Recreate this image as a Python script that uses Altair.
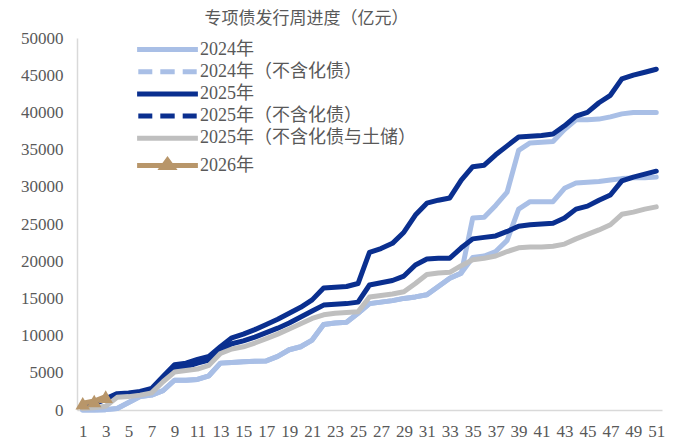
import altair as alt
import pandas as pd

weeks = list(range(1, 52))

s2024 = [0, 0, 50, 200, 1000, 1800, 2000, 2600, 4000, 4000,
         4100, 4600, 6300, 6400, 6500, 6550, 6600, 7200, 8100, 8500,
         9400, 11500, 11700, 11800, 13000, 14300, 14500, 14700, 15000, 15200,
         15500, 16600, 17700, 18400, 25800, 25900, 27500, 29300, 34900, 35900,
         36000, 36100, 37700, 39000, 39000, 39100, 39400, 39800, 40000, 40000,
         40000]
s2024_ex = [0, 0, 50, 200, 1000, 1800, 2000, 2600, 4000, 4000,
            4100, 4600, 6300, 6400, 6500, 6550, 6600, 7200, 8100, 8500,
            9400, 11500, 11700, 11800, 13000, 14300, 14500, 14700, 15000, 15200,
            15500, 16600, 17700, 18400, 20500, 20700, 21300, 22800, 27000, 28000,
            28000, 28000, 29800, 30500, 30600, 30700, 30900, 31100, 31200, 31200,
            31300]
s2025 = [600, 900, 1500, 2200, 2300, 2500, 2900, 4500, 6100, 6300,
         6800, 7200, 8500, 9700, 10200, 10800, 11500, 12200, 13000, 13800,
         14800, 16400, 16500, 16600, 17000, 21200, 21700, 22400, 23900, 26200,
         27800, 28200, 28500, 30900, 32700, 32900, 34300, 35500, 36700, 36800,
         36900, 37100, 38200, 39500, 40000, 41300, 42300, 44500, 45000, 45400,
         45800]
s2025_ex = [600, 900, 1400, 2100, 2200, 2400, 2700, 4300, 5700, 5800,
            6300, 6700, 8000, 8900, 9300, 9800, 10400, 11000, 11700, 12500,
            13300, 14100, 14200, 14300, 14500, 16800, 17100, 17400, 18000, 19500,
            20300, 20400, 20400, 21800, 23000, 23200, 23400, 24000, 24700, 24900,
            25000, 25100, 25800, 27000, 27400, 28200, 28900, 30800, 31300, 31700,
            32100]
s2025_ex2 = [200, 300, 500, 1700, 1800, 2000, 2300, 3800, 5100, 5300,
             5500, 6000, 7600, 8200, 8500, 9000, 9600, 10200, 10900, 11600,
             12300, 12800, 13000, 13100, 13200, 15200, 15400, 15600, 15900, 17000,
             18200, 18400, 18500, 19400, 20200, 20400, 20700, 21300, 21800, 21900,
             21900, 22000, 22300, 23000, 23600, 24200, 24900, 26300, 26600, 27000,
             27300]
s2026 = [900, 1200, 1800]

names = ["2024年", "2024年（不含化债）", "2025年", "2025年（不含化债）",
         "2025年（不含化债与土储）", "2026年"]
series = [s2024, s2024_ex, s2025, s2025_ex, s2025_ex2, s2026]
colors = ["#a9bfe6", "#a9bfe6", "#0a2f8f", "#0a2f8f", "#bfbfbf", "#b8966a"]
legend_paths = [
    "M-3.8,0H3.8",
    "M-3.65,0H-1.9M-0.9,0H0.9M1.9,0H3.65",
    "M-3.8,0H3.8",
    "M-3.65,0H-1.9M-0.9,0H0.9M1.9,0H3.65",
    "M-3.8,0H3.8",
    "M-3.8,0H3.8M-0.65,0.25L0,-0.65L0.65,0.25Z",
]

rows = []
for name, vals in zip(names, series):
    for w, v in zip(weeks, vals):
        rows.append({"series": name, "week": w, "value": v})
df = pd.DataFrame(rows)

TEXT = "#595959"
FONT = "Liberation Serif, Noto Sans CJK SC"

x = alt.X("week:Q",
          scale=alt.Scale(domain=[0.5, 51.5], nice=False, zero=False),
          axis=alt.Axis(values=list(range(1, 52, 2)), format="d", title=None,
                        labelFlush=False, labelOverlap=False, labelPadding=13))
y = alt.Y("value:Q",
          scale=alt.Scale(domain=[0, 50000], nice=False),
          axis=alt.Axis(values=list(range(0, 50001, 5000)), format="d", title=None,
                        labelFlush=False, labelOverlap=False, labelPadding=14))

base = alt.Chart(df)
layers = []
for name, col in zip(names, colors):
    layers.append(
        base.transform_filter(alt.datum.series == name)
        .mark_line(strokeWidth=5, strokeCap="round", strokeJoin="round", color=col)
        .encode(x=x, y=y)
    )

pts = (base.transform_filter(alt.datum.series == "2026年")
       .mark_point(shape="triangle-up", filled=True, size=210, color=colors[5], opacity=1)
       .encode(x=x, y=y))

leg = alt.Legend(title=None, orient="none", legendX=80, legendY=1,
                 labelFont=FONT, labelFontSize=18, labelColor=TEXT,
                 labelOffset=22, symbolStrokeWidth=5, symbolSize=256,
                 rowPadding=1.2, padding=0, labelLimit=400)

legend_layer = (base.transform_filter("datum.week < 0")
                .mark_point(filled=False, opacity=1, strokeWidth=5, size=256)
                .encode(x=x, y=y,
                        color=alt.Color("series:N", scale=alt.Scale(domain=names, range=colors), legend=leg),
                        shape=alt.Shape("series:N", scale=alt.Scale(domain=names, range=legend_paths), legend=leg)))

chart = (alt.layer(*layers, pts, legend_layer)
         .properties(width=585, height=372,
                     padding={"left": 77, "top": 38, "right": 16, "bottom": 33},
                     autosize=alt.AutoSizeParams(type="none"),
                     title=alt.TitleParams("专项债发行周进度（亿元）", fontSize=17, color=TEXT,
                                           font="Noto Sans CJK SC", fontWeight="normal",
                                           anchor="start", dx=184, dy=3))
         .configure_view(stroke=None)
         .configure_axis(grid=False, ticks=False, domainColor="#d9d9d9", domainWidth=1.5,
                         labelColor=TEXT, labelFont="Liberation Serif", labelFontSize=17))

chart.save("out.html", embed_options={"renderer": "svg", "actions": False})
